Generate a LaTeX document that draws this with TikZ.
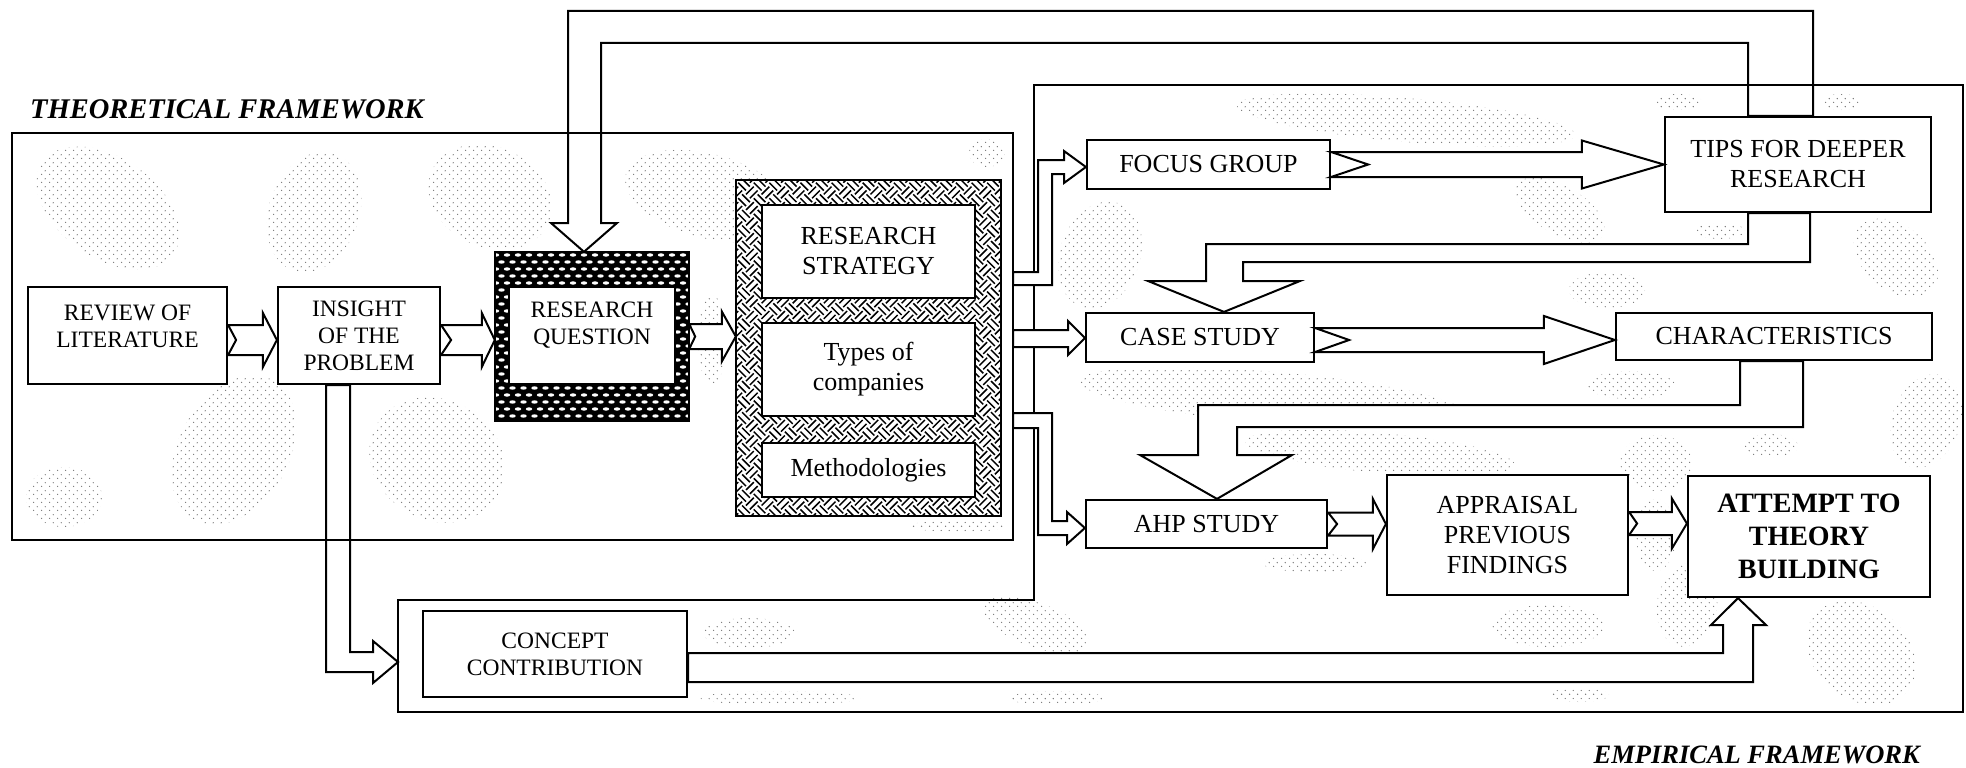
\documentclass[tikz,border=0pt]{standalone}
\usepackage{fontspec}
\setmainfont{Liberation Serif}
\usetikzlibrary{calc,patterns}

% light stipple used for the speckled background
\pgfdeclarepatternformonly{stipple}{\pgfpointorigin}{\pgfpoint{8pt}{8pt}}{\pgfpoint{8pt}{8pt}}{%
  \pgfpathcircle{\pgfpoint{1.8pt}{1.8pt}}{0.75pt}%
  \pgfpathcircle{\pgfpoint{5.8pt}{5.8pt}}{0.75pt}%
  \pgfusepath{fill}}

\tikzset{
  boxst/.style={draw, fill=white, line width=2.2pt, inner sep=0pt},
  txtA/.style={align=center, inner sep=0pt, font=\fontsize{26}{30}\selectfont},
  txtB/.style={align=center, inner sep=0pt, font=\fontsize{23.5}{27}\selectfont},
  txtC/.style={align=center, inner sep=0pt, font=\bfseries\fontsize{28}{33}\selectfont},
  ttl/.style={inner sep=0pt, font=\bfseries\itshape\fontsize{28.5}{33}\selectfont},
  ttlsmall/.style={inner sep=0pt, font=\bfseries\itshape\fontsize{26.5}{31}\selectfont},
  framest/.style={draw, line width=2.4pt, line join=miter},
  arr/.style={draw, fill=white, line width=2pt, line join=miter},
  weavest/.style={line width=1.5pt},
  blob/.style={pattern=stipple, pattern color=black!55},
}

% box from its two corners: [style]{name}{x1}{y1}{x2}{y2}{text}
\newcommand\bx[7][]{\node[boxst,#1,minimum width={#5-#3},minimum height={#6-#4}] (#2) at ({(#3+#5)/2},{(#4+#6)/2}) {#7};}

% notched block arrow from east side of #1 to west side of #2
% #3 vertical offset, #4 half shaft, #5 half head, #6 head length, #7 notch depth
\newcommand\notcharrow[7]{%
  \draw[arr] let \p1=(#1.east), \p2=(#2.west) in
    (\x1,{\y1+(#3+#4)*1pt}) -- ({\x2-#6*1pt},{\y1+(#3+#4)*1pt})
    -- ({\x2-#6*1pt},{\y1+(#3+#5)*1pt}) -- (\x2,{\y1+(#3)*1pt})
    -- ({\x2-#6*1pt},{\y1+(#3-#5)*1pt}) -- ({\x2-#6*1pt},{\y1+(#3-#4)*1pt})
    -- (\x1,{\y1+(#3-#4)*1pt}) -- ({\x1+#7*1pt},{\y1+(#3)*1pt}) -- cycle;}

\begin{document}
\begin{tikzpicture}[x=1pt,y=-1pt]
\useasboundingbox (0,0) rectangle (1966,768);

% ---------- speckled background ----------
\foreach \cx/\cy/\rx/\ry/\ang in {
  108/208/80/50/-35, 314/212/45/62/-20, 490/197/64/50/-25, 234/450/55/80/-30, 437/460/70/60/-30,
  64/497/38/30/0, 708/196/85/42/-15, 987/153/18/14/0, 712/340/14/45/0, 959/526/48/6/0,
  1406/120/170/22/-5, 1678/102/24/8/0, 1841/102/20/8/0, 1560/210/50/24/-30, 1720/231/25/8/0,
  1896/258/48/32/-40, 1100/255/40/55/-20, 1607/290/38/18/0, 1274/398/195/26/-5, 1631/385/44/14/0,
  1380/453/135/20/-5, 1656/463/36/28/0, 1770/446/28/12/0, 1926/421/34/48/-20, 1656/535/20/36/0,
  1314/563/52/9/0, 1687/605/30/42/-10, 1861/653/60/46/-40, 1548/626/56/21/0, 1579/695/30/7/0,
  749/633/46/15/0, 1036/625/56/22/-20, 780/698/80/7/0, 1056/698/48/7/0}
  \fill[blob, rotate around={\ang:(\cx,\cy)}] (\cx,\cy) ellipse [x radius=\rx, y radius=\ry];

% ---------- frames (named, drawn later) ----------
\path node[inner sep=0pt, minimum width=1001, minimum height=407] (theo) at (512.5,336.5) {};
\coordinate (empin) at (398,662);

% ---------- theoretical boxes ----------
\bx{review}{28}{287}{227}{384}{}
\node[txtB] (reviewtxt) at (127.5,326.5) {REVIEW OF\\LITERATURE};
\bx[txtB]{insight}{278}{287}{440}{384}{INSIGHT\\OF THE\\PROBLEM}

% research question, dark band with white ovals
\path node[inner sep=0pt, minimum width=194, minimum height=169] (rqout) at (592,336.5) {};
\fill[black] (rqout.north west) rectangle (rqout.south east);
\begin{scope}
  \clip (rqout.north west) rectangle (rqout.south east);
  \foreach \r in {0,...,24}{\foreach \c in {0,...,18}{
    \fill[white] ({496+\c*11+mod(\r,2)*5.5},{255+\r*7}) ellipse [x radius=3.2, y radius=1.7];}}
\end{scope}
\draw[line width=2.2pt] (rqout.north west) rectangle (rqout.south east);
\bx{rqin}{509}{287}{675}{384}{}
\node[txtB] (rqtxt) at (592,325.5) {RESEARCH\\QUESTION};

% strategy group, woven band
\path node[inner sep=0pt, minimum width=265, minimum height=336] (stratout) at (868.5,348) {};
\fill[white] (stratout.north west) rectangle (stratout.south east);
\begin{scope}
  \clip (stratout.north west) rectangle (stratout.south east);
  \begin{scope}[shift={(stratout.center)}, rotate=45]
    \foreach \i in {-20,...,19}{\foreach \j in {-20,...,19}{
      \pgfmathtruncatemacro\wpar{mod(\i+\j+200,2)}
      \ifnum\wpar=0
        \draw[weavest] (\i*11,\j*11+2.75) -- ++(11,0) (\i*11,\j*11+8.25) -- ++(11,0);
      \else
        \draw[weavest] (\i*11+2.75,\j*11) -- ++(0,11) (\i*11+8.25,\j*11) -- ++(0,11);
      \fi}}
  \end{scope}
\end{scope}
\draw[line width=2.2pt] (stratout.north west) rectangle (stratout.south east);
\bx[txtA]{strategy}{762}{205}{975}{298}{RESEARCH\\STRATEGY}
\bx[txtA]{types}{762}{323}{975}{416}{Types of\\companies}
\bx[txtA]{methods}{762}{443}{975}{497}{Methodologies}

% ---------- empirical boxes ----------
\bx[txtA]{focus}{1087}{140}{1330}{189}{FOCUS GROUP}
\bx[txtA]{tips}{1665}{117}{1931}{212}{TIPS FOR DEEPER\\RESEARCH}
\bx[txtA]{case}{1086}{313}{1314}{362}{CASE STUDY}
\bx[txtA]{chars}{1616}{313}{1932}{360}{CHARACTERISTICS}
\bx[txtA]{ahp}{1086}{500}{1327}{548}{AHP STUDY}
\bx[txtA]{appraisal}{1387}{475}{1628}{595}{APPRAISAL\\PREVIOUS\\FINDINGS}
\bx[txtC]{attempt}{1688}{476}{1930}{597}{ATTEMPT TO\\THEORY\\BUILDING}
\bx[txtB]{concept}{423}{611}{687}{697}{CONCEPT\\CONTRIBUTION}

% ---------- straight notched arrows ----------
\notcharrow{review}{insight}{-4.5}{15}{27}{14}{8}
\notcharrow{insight}{rqout}{-4.5}{15}{27}{13}{10}
\notcharrow{rqout}{stratout}{0}{12.5}{25}{14}{6}
\notcharrow{focus}{tips}{0}{12.5}{24}{82}{37}
\notcharrow{case}{chars}{-2.5}{12}{24}{71}{34}
\notcharrow{ahp}{appraisal}{0}{11.5}{25}{13}{9}
\notcharrow{appraisal}{attempt}{11.5}{11.5}{25}{15}{8}

% ---------- bent hollow arrows ----------
% tips back to the research question
\draw[arr] (tips.north -| 1813,0) -- (1813,11) -- (568,11) -- (568,223) -- (551,223)
  -- (rqout.north -| 584,0) -- (617,223) -- (601,223) -- (601,43) -- (1748,43)
  -- (tips.north -| 1748,0) -- cycle;
% tips down to case study
\draw[arr] (tips.south -| 1748,0) -- (1748,244) -- (1206,244) -- (1206,281) -- (1148,281)
  -- (case.north -| 1224,0) -- (1300,281) -- (1243,281) -- (1243,262) -- (1810,262)
  -- (tips.south -| 1810,0) -- cycle;
% characteristics down to AHP study
\draw[arr] (chars.south -| 1740,0) -- (1740,405) -- (1198,405) -- (1198,455) -- (1140,455)
  -- (ahp.north -| 1217,0) -- (1292,455) -- (1237,455) -- (1237,427) -- (1803,427)
  -- (chars.south -| 1803,0) -- cycle;
% insight down to the concept contribution
\draw[arr] (insight.south -| 326,0) -- (326,672) -- (373,672) -- (373,683) -- (empin)
  -- (373,641) -- (373,652) -- (350,652) -- (insight.south -| 350,0) -- cycle;
% concept contribution up to theory building
\draw[arr] (concept.east |- 0,653) -- (1723,653) -- (1723,625) -- (1711,625)
  -- (attempt.south -| 1738,0) -- (1766,625) -- (1753,625) -- (1753,682)
  -- (concept.east |- 0,682) -- cycle;

% ---------- empirical frame ----------
\draw[framest] (1034,85) -- (1963,85) -- (1963,712) -- (398,712) -- (398,600) -- (1034,600) -- cycle;

% ---------- arrows leaving the theoretical frame ----------
\draw[arr] (theo.east |- 0,285) -- (1052,285) -- (1052,174) -- (1064,174) -- (1064,183)
  -- (focus.west |- 0,167) -- (1064,151) -- (1064,160) -- (1038,160) -- (1038,272)
  -- (theo.east |- 0,272) -- cycle;
\draw[arr] (theo.east |- 0,330) -- (1068,330) -- (1068,321) -- (case.west |- 0,338)
  -- (1068,355) -- (1068,347) -- (theo.east |- 0,347) -- cycle;
\draw[arr] (theo.east |- 0,413) -- (1052,413) -- (1052,521) -- (1067,521) -- (1067,512)
  -- (ahp.west |- 0,528) -- (1067,544) -- (1067,535) -- (1038,535) -- (1038,428)
  -- (theo.east |- 0,428) -- cycle;

% ---------- theoretical frame ----------
\draw[framest] (theo.north west) rectangle (theo.south east);

% ---------- titles ----------
\node[ttl, anchor=base west] (theotitle) at (30,118) {THEORETICAL FRAMEWORK};
\node[ttlsmall, anchor=base east] (emptitle) at (1920,763) {EMPIRICAL FRAMEWORK};
\end{tikzpicture}
\end{document}
